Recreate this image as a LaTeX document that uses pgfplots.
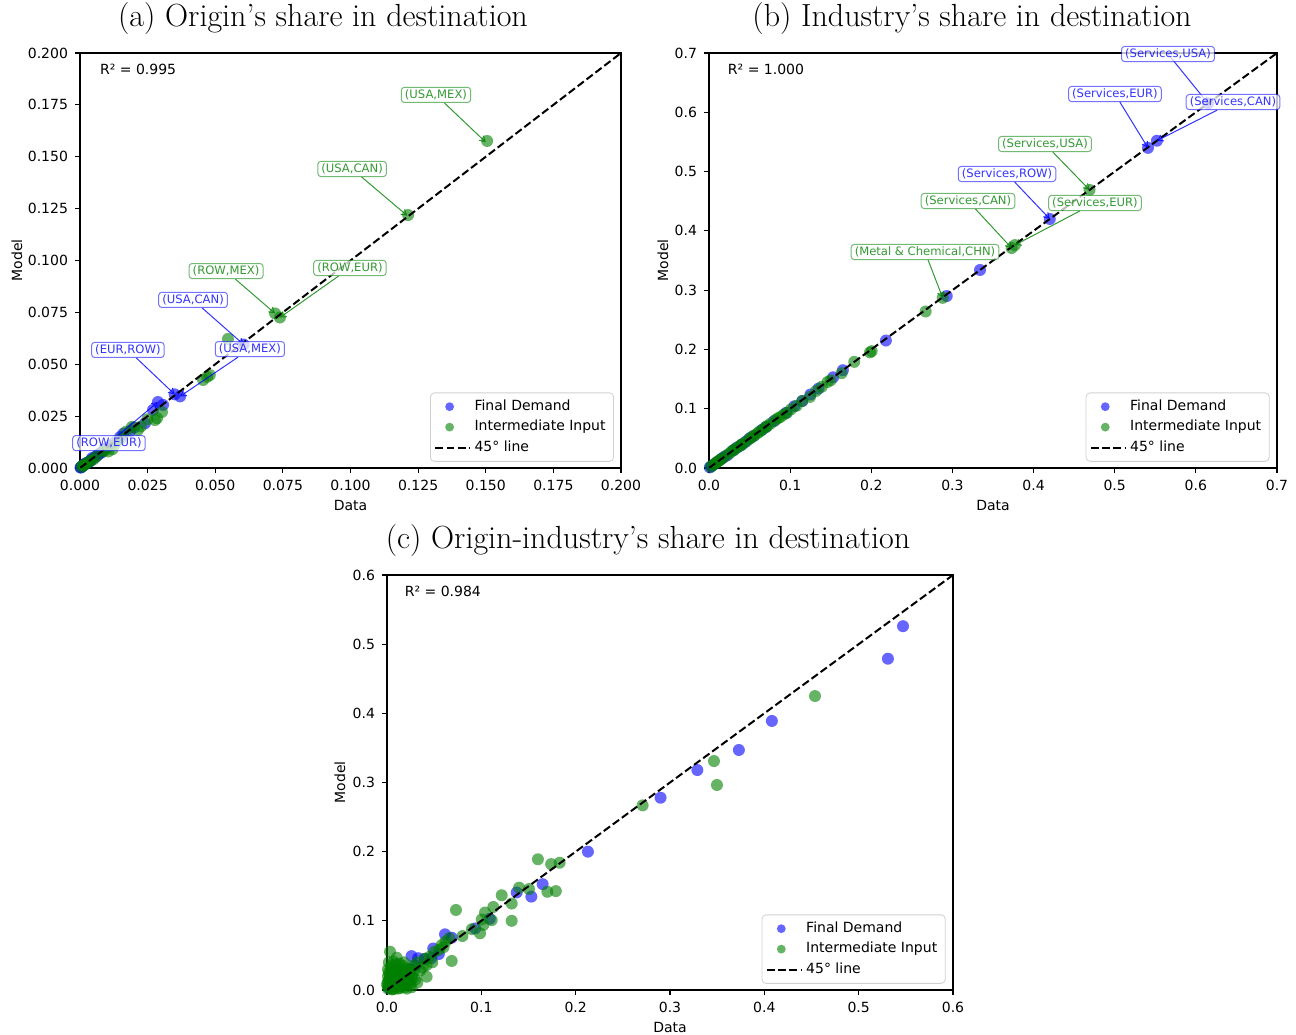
\documentclass[border=0pt]{standalone}
\usepackage{pgfplots}
\pgfplotsset{compat=1.18}
\usetikzlibrary{arrows.meta}
\usepackage{fontspec}
\newfontfamily\dejavu{DejaVu Sans}
\definecolor{mplblue}{RGB}{0,0,255}
\definecolor{mplgreen}{RGB}{0,128,0}

\pgfplotsset{
  panel/.style={
    scale only axis, height=207.5pt,
    axis line style={line width=0.55pt},
    tick align=outside, tick pos=left,
    major tick length=2.5pt,
    every tick/.style={black, line width=0.55pt},
    tick label style={font=\dejavu\fontsize{7}{8}\selectfont},
    /pgf/number format/assume math mode=true,
    scaled ticks=false,
    label style={font=\dejavu\fontsize{7}{8}\selectfont},
    xlabel={Data}, ylabel={Model},
    xlabel style={at={(axis description cs:0.5,-0.0892)}, anchor=center},
    clip mode=individual,
    legend style={at={(0.987,0.015)}, anchor=south east,
      font=\dejavu\fontsize{7}{8}\selectfont, draw=black!18,
      rounded corners=2pt, fill=white, fill opacity=0.8, text opacity=1,
      inner xsep=2pt, inner ysep=1.5pt, row sep=-0.6pt},
    legend cell align=left,
  },
  fd/.style={only marks, mark=*, mark size=3pt, color=mplblue,
    mark options={draw=mplblue, fill=mplblue, draw opacity=0, fill opacity=0.6},
    legend image code/.code={\draw[mark size=2.2pt] plot coordinates {(0.25cm,0cm)};}},
  ii/.style={only marks, mark=*, mark size=3pt, color=mplgreen,
    mark options={draw=mplgreen, fill=mplgreen, draw opacity=0, fill opacity=0.6},
    legend image code/.code={\draw[mark size=2.2pt] plot coordinates {(0.25cm,0cm)};}},
  diag/.style={black, line width=1pt, dash pattern=on 3.9pt off 1.7pt},
}
\tikzset{
  boxb/.style={draw=mplblue, draw opacity=0.55, rounded corners=1.5pt, fill=white,
    fill opacity=0.75, text opacity=0.8, text=mplblue, inner xsep=1.8pt, inner ysep=1.2pt,
    font=\dejavu\fontsize{5.8}{6.5}\selectfont, line width=0.5pt},
  boxg/.style={boxb, draw=mplgreen, text=mplgreen},
  arrb/.style={-{Straight Barb[length=2.6pt,width=3.2pt]}, mplblue, line width=0.5pt, draw opacity=0.8},
  arrg/.style={-{Straight Barb[length=2.6pt,width=3.2pt]}, mplgreen, line width=0.5pt, draw opacity=0.8},
  rtext/.style={anchor=west, font=\dejavu\fontsize{7}{8}\selectfont},
}

\begin{document}
\begin{tikzpicture}
\useasboundingbox (0,0) rectangle (648pt,517pt);

\node[font=\fontsize{16}{19}\selectfont] at (161.5pt,507.5pt) {(a) Origin's share in destination};
\node[font=\fontsize{16}{19}\selectfont] at (486pt,507.5pt) {(b) Industry's share in destination};
\node[font=\fontsize{16}{19}\selectfont] at (324pt,246.5pt) {(c) Origin-industry's share in destination};

% ---------------- (a)
\begin{axis}[panel, at={(40pt,283pt)}, anchor=south west, width=270.5pt,
  xmin=0, xmax=0.2, ymin=0, ymax=0.2,
  xtick={0,0.025,0.05,0.075,0.1,0.125,0.15,0.175,0.2},
  ytick={0,0.025,0.05,0.075,0.1,0.125,0.15,0.175,0.2},
  xticklabel style={/pgf/number format/.cd, fixed, fixed zerofill, precision=3},
  yticklabel style={/pgf/number format/.cd, fixed, fixed zerofill, precision=3},
  ylabel style={at={(axis description cs:-0.1164,0.5)}, anchor=center},
]
\addplot[fd] table {
0.0370 0.0345
0.0350 0.0355
0.0605 0.0595
0.0288 0.0318
0.0307 0.0304
0.0240 0.0215
0.0200 0.0195
0.0148 0.0149
0.0130 0.0125
0.0110 0.0108
0.0090 0.0092
0.0070 0.0068
0.0055 0.0052
0.0045 0.0048
0.0035 0.0030
0.0025 0.0024
0.0015 0.0016
0.0010 0.0009
0.0006 0.0005
0.0003 0.0003
0.0080 0.0075
0.0160 0.0165
0.0185 0.0178
0.0270 0.0280
0.0012 0.0014
0.0040 0.0038
0.0065 0.0062
0.0020 0.0022
0.0002 0.0002
0.0100 0.0097
};
\addlegendentry{Final Demand}
\addplot[ii] table {
0.1505 0.1576
0.1213 0.1219
0.0721 0.0745
0.0739 0.0725
0.0547 0.0622
0.0455 0.0424
0.0470 0.0439
0.0480 0.0448
0.0277 0.0231
0.0285 0.0240
0.0303 0.0270
0.0192 0.0198
0.0214 0.0183
0.0225 0.0200
0.0170 0.0175
0.0130 0.0115
0.0120 0.0090
0.0105 0.0080
0.0085 0.0080
0.0060 0.0055
0.0050 0.0042
0.0030 0.0028
0.0020 0.0018
0.0010 0.0012
0.0005 0.0005
0.0150 0.0140
0.0090 0.0085
0.0040 0.0035
0.0015 0.0013
0.0250 0.0235
};
\addlegendentry{Intermediate Input}
\addplot[diag] coordinates {(0,0) (0.2,0.2)};
\addlegendentry{45° line}
\node[rtext] at (rel axis cs:0.024,0.961) {R² = 0.995};
\node[boxg] (a1) at (axis cs:0.1316,0.1798) {(USA,MEX)};
\draw[arrg] (a1) -- (axis cs:0.1500,0.1570);
\node[boxg] (a2) at (axis cs:0.1006,0.1441) {(USA,CAN)};
\draw[arrg] (a2) -- (axis cs:0.1210,0.1216);
\node[boxg] (a3) at (axis cs:0.054,0.0949) {(ROW,MEX)};
\draw[arrg] (a3) -- (axis cs:0.0721,0.0745);
\node[boxg] (a4) at (axis cs:0.0998,0.0964) {(ROW,EUR)};
\draw[arrg] (a4) -- (axis cs:0.0739,0.0725);
\node[boxb] (a5) at (axis cs:0.0418,0.081) {(USA,CAN)};
\draw[arrb] (a5) -- (axis cs:0.0605,0.0595);
\node[boxb] (a6) at (axis cs:0.0177,0.0569) {(EUR,ROW)};
\draw[arrb] (a6) -- (axis cs:0.0350,0.0355);
\node[boxb] (a7) at (axis cs:0.0628,0.0573) {(USA,MEX)};
\draw[arrb] (a7) -- (axis cs:0.0370,0.0345);
\node[boxb] (a8) at (axis cs:0.0107,0.0120) {(ROW,EUR)};
\draw[arrb] (a8) -- (axis cs:0.0288,0.0318);
\end{axis}

% ---------------- (b)
\begin{axis}[panel, at={(354.5pt,283pt)}, anchor=south west, width=284pt,
  xmin=0, xmax=0.7, ymin=0, ymax=0.7,
  xtick={0,0.1,0.2,0.3,0.4,0.5,0.6,0.7},
  ytick={0,0.1,0.2,0.3,0.4,0.5,0.6,0.7},
  xticklabel style={/pgf/number format/.cd, fixed, fixed zerofill, precision=1},
  yticklabel style={/pgf/number format/.cd, fixed, fixed zerofill, precision=1},
  ylabel style={at={(axis description cs:-0.081,0.5)}, anchor=center},
]
\addplot[fd] table {
0.5520 0.5520
0.5410 0.5400
0.6150 0.6150
0.4200 0.4200
0.3340 0.3340
0.2930 0.2900
0.2180 0.2150
0.1650 0.1650
0.1530 0.1530
0.1350 0.1340
0.1150 0.1130
0.0950 0.0930
0.0800 0.0790
0.0650 0.0640
0.0500 0.0500
0.0400 0.0390
0.0300 0.0300
0.0225 0.0215
0.0150 0.0150
0.0100 0.0100
0.0060 0.0060
0.0030 0.0030
0.0010 0.0010
0.0700 0.0690
0.1050 0.1040
0.1250 0.1240
0.0550 0.0540
0.0350 0.0350
0.0450 0.0440
0.0180 0.0180
};
\addlegendentry{Final Demand}
\addplot[ii] table {
0.4690 0.4690
0.3730 0.3710
0.3770 0.3760
0.2880 0.2870
0.2670 0.2640
0.2005 0.1970
0.1984 0.1950
0.1790 0.1790
0.1635 0.1600
0.1460 0.1450
0.1390 0.1370
0.1245 0.1200
0.1080 0.1050
0.0960 0.0930
0.0880 0.0860
0.0820 0.0810
0.0760 0.0750
0.0720 0.0710
0.0660 0.0650
0.0600 0.0590
0.0560 0.0550
0.0510 0.0500
0.0470 0.0460
0.0420 0.0410
0.0380 0.0370
0.0330 0.0330
0.0280 0.0280
0.0250 0.0245
0.0200 0.0200
0.0160 0.0160
0.0120 0.0120
0.0080 0.0080
0.0050 0.0050
0.0020 0.0020
0.0090 0.0090
0.0130 0.0130
0.0310 0.0305
0.0400 0.0395
0.0530 0.0525
0.0620 0.0610
0.0700 0.0690
0.0850 0.0840
0.0920 0.0900
0.1010 0.0990
0.1150 0.1130
0.1320 0.1300
0.1500 0.1480
};
\addlegendentry{Intermediate Input}
\addplot[diag] coordinates {(0,0) (0.7,0.7)};
\addlegendentry{45° line}
\node[rtext] at (rel axis cs:0.021,0.961) {R² = 1.000};
\draw[arrb] (axis cs:0.5657,0.6983) -- (axis cs:0.6150,0.6150);
\node[boxb] (b3) at (axis cs:0.6458,0.6173) {(Services,CAN)};
\draw[arrb] (b3) -- (axis cs:0.5520,0.5520);
\node[boxb] (b1) at (axis cs:0.5657,0.6983) {(Services,USA)};
\node[boxb] (b2) at (axis cs:0.5003,0.6308) {(Services,EUR)};
\draw[arrb] (b2) -- (axis cs:0.5410,0.5400);
\node[boxg] (b4) at (axis cs:0.4141,0.5465) {(Services,USA)};
\draw[arrg] (b4) -- (axis cs:0.4690,0.4690);
\node[boxb] (b5) at (axis cs:0.3673,0.4959) {(Services,ROW)};
\draw[arrb] (b5) -- (axis cs:0.4200,0.4200);
\node[boxg] (b6) at (axis cs:0.3192,0.4504) {(Services,CAN)};
\draw[arrg] (b6) -- (axis cs:0.3730,0.3710);
\node[boxg] (b7) at (axis cs:0.4757,0.4470) {(Services,EUR)};
\draw[arrg] (b7) -- (axis cs:0.3770,0.3760);
\node[boxg] (b8) at (axis cs:0.2662,0.3643) {(Metal \& Chemical,CHN)};
\draw[arrg] (b8) -- (axis cs:0.2880,0.2870);
\end{axis}

% ---------------- (c)
\begin{axis}[panel, at={(193.5pt,22pt)}, anchor=south west, width=283pt,
  xmin=0, xmax=0.6, ymin=0, ymax=0.6,
  xtick={0,0.1,0.2,0.3,0.4,0.5,0.6},
  ytick={0,0.1,0.2,0.3,0.4,0.5,0.6},
  xticklabel style={/pgf/number format/.cd, fixed, fixed zerofill, precision=1},
  yticklabel style={/pgf/number format/.cd, fixed, fixed zerofill, precision=1},
  ylabel style={at={(axis description cs:-0.083,0.5)}, anchor=center},
]
\addplot[fd] table {
0.547 0.526
0.531 0.479
0.408 0.389
0.373 0.347
0.329 0.318
0.290 0.278
0.213 0.200
0.165 0.153
0.153 0.135
0.1375 0.141
0.109 0.103
0.0615 0.0805
0.0686 0.0756
0.049 0.060
0.047 0.046
0.026 0.049
0.033 0.046
0.0935 0.089
0.015 0.020
0.010 0.012
0.005 0.008
0.002 0.003
0.020 0.025
0.008 0.015
0.012 0.010
0.003 0.012
0.018 0.015
0.025 0.030
0.030 0.035
0.040 0.045
0.055 0.052
};
\addlegendentry{Final Demand}
\addplot[ii] table {
0.4537 0.425
0.3466 0.331
0.3498 0.2964
0.271 0.267
0.160 0.189
0.174 0.182
0.183 0.184
0.170 0.142
0.179 0.143
0.140 0.148
0.1505 0.146
0.1216 0.137
0.1322 0.125
0.1127 0.120
0.1039 0.112
0.1004 0.102
0.1322 0.100
0.0986 0.082
0.1021 0.094
0.111 0.101
0.0731 0.1157
0.0686 0.042
0.042 0.0192
0.0321 0.0106
0.0032 0.0554
0.0103 0.0467
0.058 0.065
0.062 0.070
0.066 0.075
0.060 0.062
0.055 0.058
0.090 0.088
0.080 0.078
0.001 0.002
0.002 0.005
0.003 0.010
0.004 0.015
0.005 0.001
0.006 0.020
0.007 0.008
0.008 0.028
0.009 0.004
0.010 0.015
0.011 0.022
0.012 0.002
0.013 0.030
0.014 0.010
0.015 0.005
0.016 0.018
0.017 0.035
0.018 0.008
0.019 0.025
0.020 0.012
0.021 0.002
0.022 0.030
0.023 0.018
0.025 0.008
0.026 0.022
0.028 0.035
0.030 0.015
0.032 0.040
0.035 0.028
0.038 0.033
0.040 0.045
0.042 0.036
0.045 0.048
0.048 0.040
0.050 0.055
0.002 0.025
0.004 0.032
0.001 0.012
0.006 0.001
0.003 0.018
0.001 0.006
0.002 0.014
0.003 0.022
0.004 0.004
0.005 0.027
0.006 0.011
0.007 0.017
0.008 0.002
0.009 0.024
0.010 0.006
0.011 0.032
0.012 0.014
0.013 0.020
0.014 0.003
0.015 0.027
0.016 0.009
0.017 0.013
0.018 0.022
0.019 0.004
0.020 0.031
0.021 0.016
0.022 0.009
0.024 0.026
0.024 0.013
0.026 0.004
0.027 0.017
0.029 0.028
0.001 0.030
0.002 0.040
0.001 0.020
0.000 0.008
0.005 0.035
0.007 0.041
0.009 0.037
0.013 0.038
0.018 0.040
};
\addlegendentry{Intermediate Input}
\addplot[diag] coordinates {(0,0) (0.6,0.6)};
\addlegendentry{45° line}
\node[rtext] at (rel axis cs:0.019,0.961) {R² = 0.984};
\end{axis}
\end{tikzpicture}
\end{document}
